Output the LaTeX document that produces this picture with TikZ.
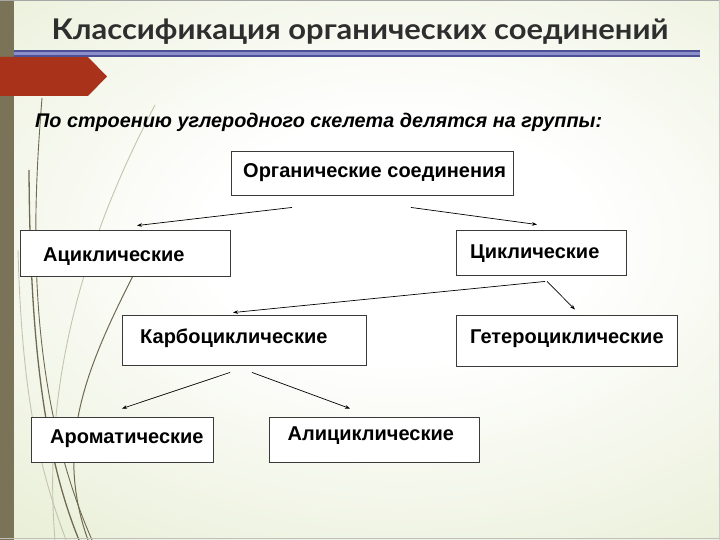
\documentclass[tikz,border=0pt]{standalone}
\usepackage{fontspec}
\setmainfont{Liberation Sans}
\newfontfamily\titlefont{Lato}
\usetikzlibrary{calc,arrows.meta}
\definecolor{bgout}{HTML}{DCE5BF}
\definecolor{band}{HTML}{7A7357}
\definecolor{redtab}{HTML}{A8331A}
\definecolor{lineblue}{HTML}{4E5096}
\definecolor{linelight}{HTML}{8C8FCB}
\definecolor{wispdark}{HTML}{6F6A50}
\definecolor{wisplight}{HTML}{C4C4AE}
\definecolor{titlecol}{HTML}{2E2E2E}
\definecolor{boxline}{HTML}{3A3A3A}
\pgfdeclareradialshading{bgshade}{\pgfpoint{0bp}{0bp}}{color(0bp)=(white); color(10bp)=(white); color(45bp)=(bgout); color(50bp)=(bgout)}
\begin{document}
\begin{tikzpicture}[x=1pt,y=-1pt,
  box/.style={draw=boxline, line width=0.9pt, fill=white, inner sep=0pt},
  lbl/.style={anchor=base west, font=\bfseries\fontsize{20}{23}\selectfont, inner sep=0pt},
  arr/.style={-{Stealth[length=5pt,width=3.6pt]}, line width=0.7pt, black},
  wd/.style={draw=wispdark, line width=1.3pt},
  wl/.style={draw=wisplight, line width=0.9pt}]
\useasboundingbox (0,0) rectangle (720,540);
% background
\begin{scope}
\clip (0,0) rectangle (720,540);
\shade[shading=bgshade] (-80,-60) rectangle (880,540);
\end{scope}
% wisps
\draw[wl] (155,105) .. controls (100,210) and (40,360) .. (55,540);
\draw[wl] (18,250) .. controls (22,400) and (40,470) .. (66,540);
\draw[wd, line width=0.9pt] (42,98) .. controls (34,200) and (22,380) .. (92,540);
\draw[wd] (29,170) .. controls (30,330) and (42,450) .. (79,540);
\draw[wd, line width=1pt] (140,262) .. controls (90,360) and (52,440) .. (88,540);
% frame
\fill[band] (0,0) rectangle (14,540);
\draw[gray!70, line width=1.2pt] (0,0.6) -- (720,0.6);
\draw[gray!50, line width=1.2pt] (0,538.8) -- (720,538.8);
\draw[gray!40, line width=1pt] (719.5,0) -- (719.5,540);
% red tab
\fill[redtab] (0,57) -- (88,57) -- (107,76.5) -- (88,96) -- (0,96) -- cycle;
% title underline
\fill[linelight] (14,50.5) rectangle (700,56.5);
\draw[lineblue, line width=1.2pt] (14,51) -- (700,51);
\draw[lineblue, line width=1.2pt] (14,56) -- (700,56);
% title
\node[anchor=base, inner sep=0pt, text=titlecol, font=\titlefont\bfseries\fontsize{28.5}{31}\selectfont] (title) at (360,40) {\scalebox{1.085}[1]{Классификация органических соединений}};
% subtitle
\node[anchor=base west, inner sep=0pt, font=\bfseries\itshape\fontsize{19.8}{23}\selectfont] (sub) at (35,127.5) {По строению углеродного скелета делятся на группы:};
% boxes
\node[box, minimum width=282pt, minimum height=44pt] (org) at (372,173) {};
\node[box, minimum width=210pt, minimum height=46pt] (acyc) at (125,253) {};
\node[box, minimum width=170pt, minimum height=45pt] (cyc) at (541,252.5) {};
\node[box, minimum width=244pt, minimum height=50pt] (carb) at (244,340) {};
\node[box, minimum width=221pt, minimum height=51pt] (het) at (566.5,340.5) {};
\node[box, minimum width=182pt, minimum height=45pt] (arom) at (122,439.5) {};
\node[box, minimum width=210pt, minimum height=45pt] (alic) at (374,439.5) {};
% labels
\node[lbl] (torg) at (243,178) {Органические соединения};
\node[lbl] (tacyc) at (43,261) {Ациклические};
\node[lbl] (tcyc) at (470,258.5) {Циклические};
\node[lbl] (tcarb) at (140,343) {Карбоциклические};
\node[lbl] (thet) at (470,343) {Гетероциклические};
\node[lbl] (tarom) at (50,443) {Ароматические};
\node[lbl] (talic) at (287.5,440.5) {Алициклические};
% arrows
\draw[arr] ($(org.south)+(-80,12)$) -- ($(acyc.north)+(12,-4)$);
\draw[arr] ($(org.south)+(39,12)$) -- ($(cyc.north)+(-4,-5)$);
\draw[arr] ($(cyc.south)+(4,6)$) -- ($(carb.north)+(-11,-2)$);
\draw[arr] ($(cyc.south)+(6,6)$) -- ($(het.north)+(8.5,-5)$);
\draw[arr] ($(carb.south)+(-14,7)$) -- ($(arom.north)+(0,-8)$);
\draw[arr] ($(carb.south)+(8,7)$) -- ($(alic.north)+(-24,-8)$);
\end{tikzpicture}
\end{document}
